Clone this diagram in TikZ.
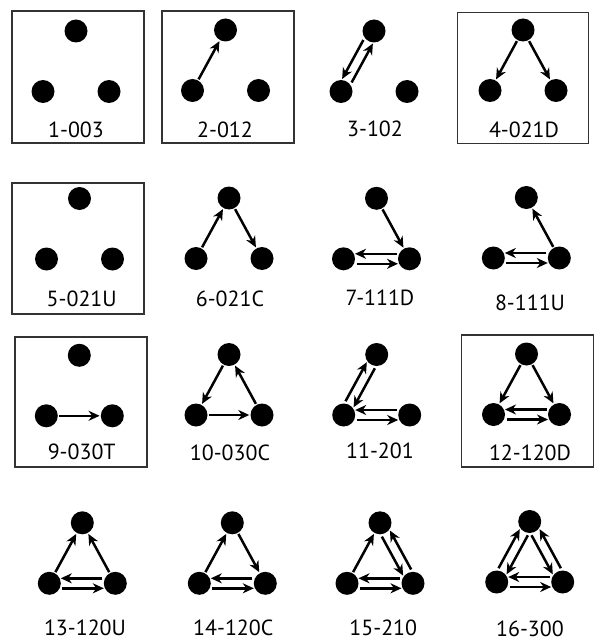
\documentclass[tikz,border=0pt]{standalone}
\usepackage{fontspec}
\setmainfont{PT Sans}
\usetikzlibrary{positioning, arrows.meta, calc}

\begin{document}
\begin{tikzpicture}[
      x=1bp, y=-1bp,
      node distance=60.5bp and 33bp, on grid,
      dot/.style={circle, fill, inner sep=0pt, minimum size=23bp, outer sep=1.2bp},
      frame/.style={draw=black!80, line width=1.7bp, minimum width=132bp,
        minimum height=132bp},
      lbl/.style={anchor=base, inner sep=1bp, font=\fontsize{22}{24}\selectfont},
      arr/.style={-{Stealth[length=11bp, width=10bp, inset=3.5bp]}, line width=2.5bp},
      twin/.style={shorten <=13bp, shorten >=11.5bp,
        to path={($(\tikztostart)!#1!-90:(\tikztotarget)$) --
          ($(\tikztotarget)!#1!90:(\tikztostart)$)}},
      twin/.default=5bp
    ]
    \useasboundingbox (0,0) rectangle (596,642);

    % frames
    \node[frame] (f1) at (78,77) {};
    \node[frame] (f2) at (228,77) {};
    \node[frame, minimum width=131bp, minimum height=131bp] (f4) at (523,78) {};
    \node[frame, minimum height=131bp] (f5) at (78,248.7) {};
    \node[frame, minimum height=130bp] (f9) at (81,402) {};
    \node[frame] (f12) at (527.5,401.3) {};

    % row 1
    \node[dot] (t1) at (76,31) {};
    \node[dot, below left=of t1] (l1) {};
    \node[dot, below right=of t1] (r1) {};
    \node[lbl] (n1) at (76,137.7) {1-003};

    \node[dot] (t2) at (225.5,30) {};
    \node[dot, below left=of t2] (l2) {};
    \node[dot, below right=of t2] (r2) {};
    \node[lbl] (n2) at (225,137.7) {2-012};
    \draw[arr] (l2) -- (t2);

    \node[dot] (t3) at (374,31) {};
    \node[dot, below left=of t3] (l3) {};
    \node[dot, below right=of t3] (r3) {};
    \node[lbl] (n3) at (375,136.7) {3-102};
    \draw[arr, twin] (t3) to (l3);
    \draw[arr, twin] (l3) to (t3);

    \node[dot] (t4) at (523,30) {};
    \node[dot, below left=of t4] (l4) {};
    \node[dot, below right=of t4] (r4) {};
    \node[lbl] (n4) at (524,137.3) {4-021D};
    \draw[arr] (t4) -- (l4);
    \draw[arr] (t4) -- (r4);

    % row 2
    \node[dot] (t5) at (79.5,198.5) {};
    \node[dot, below left=of t5] (l5) {};
    \node[dot, below right=of t5] (r5) {};
    \node[lbl] (n5) at (81.7,306.7) {5-021U};

    \node[dot] (t6) at (229,198) {};
    \node[dot, below left=of t6] (l6) {};
    \node[dot, below right=of t6] (r6) {};
    \node[lbl] (n6) at (230,306.7) {6-021C};
    \draw[arr] (l6) -- (t6);
    \draw[arr] (t6) -- (r6);

    \node[dot] (t7) at (376.5,198.3) {};
    \node[dot, below left=of t7] (l7) {};
    \node[dot, below right=of t7] (r7) {};
    \node[lbl] (n7) at (380,305) {7-111D};
    \draw[arr] (t7) -- (r7);
    \draw[arr, twin] (l7) to (r7);
    \draw[arr, twin] (r7) to (l7);

    \node[dot] (t8) at (526.3,197.5) {};
    \node[dot, below left=of t8] (l8) {};
    \node[dot, below right=of t8] (r8) {};
    \node[lbl] (n8) at (530,310) {8-111U};
    \draw[arr] (r8) -- (t8);
    \draw[arr, twin] (l8) to (r8);
    \draw[arr, twin] (r8) to (l8);

    % row 3
    \node[dot] (t9) at (79.3,355.3) {};
    \node[dot, below left=of t9] (l9) {};
    \node[dot, below right=of t9] (r9) {};
    \node[lbl] (n9) at (81.7,459.3) {9-030T};
    \draw[arr] (l9) -- (r9);

    \node[dot] (t10) at (229,354.5) {};
    \node[dot, below left=of t10] (l10) {};
    \node[dot, below right=of t10] (r10) {};
    \node[lbl] (n10) at (230,460) {10-030C};
    \draw[arr] (t10) -- (l10);
    \draw[arr] (l10) -- (r10);
    \draw[arr] (r10) -- (t10);

    \node[dot] (t11) at (376.7,354.5) {};
    \node[dot, below left=of t11] (l11) {};
    \node[dot, below right=of t11] (r11) {};
    \node[lbl] (n11) at (380,458.3) {11-201};
    \draw[arr, twin=-5bp] (t11) to (l11);
    \draw[arr, twin=-5bp] (l11) to (t11);
    \draw[arr, twin] (l11) to (r11);
    \draw[arr, twin] (r11) to (l11);

    \node[dot] (t12) at (526.5,354) {};
    \node[dot, below left=of t12] (l12) {};
    \node[dot, below right=of t12] (r12) {};
    \node[lbl] (n12) at (530,460) {12-120D};
    \draw[arr] (t12) -- (l12);
    \draw[arr] (t12) -- (r12);
    \draw[arr, twin] (l12) to (r12);
    \draw[arr, twin] (r12) to (l12);

    % row 4
    \node[dot] (t13) at (82.3,522.8) {};
    \node[dot, below left=of t13] (l13) {};
    \node[dot, below right=of t13] (r13) {};
    \node[lbl] (n13) at (85,635) {13-120U};
    \draw[arr] (l13) -- (t13);
    \draw[arr] (r13) -- (t13);
    \draw[arr, twin] (l13) to (r13);
    \draw[arr, twin] (r13) to (l13);

    \node[dot] (t14) at (232.3,522.8) {};
    \node[dot, below left=of t14] (l14) {};
    \node[dot, below right=of t14] (r14) {};
    \node[lbl] (n14) at (233.3,635) {14-120C};
    \draw[arr] (l14) -- (t14);
    \draw[arr] (t14) -- (r14);
    \draw[arr, twin] (l14) to (r14);
    \draw[arr, twin] (r14) to (l14);

    \node[dot] (t15) at (380,522.8) {};
    \node[dot, below left=of t15] (l15) {};
    \node[dot, below right=of t15] (r15) {};
    \node[lbl] (n15) at (383.3,635.5) {15-210};
    \draw[arr] (l15) -- (t15);
    \draw[arr, twin] (t15) to (r15);
    \draw[arr, twin] (r15) to (t15);
    \draw[arr, twin] (l15) to (r15);
    \draw[arr, twin] (r15) to (l15);

    \node[dot] (t16) at (529.7,521.5) {};
    \node[dot, below left=of t16] (l16) {};
    \node[dot, below right=of t16] (r16) {};
    \node[lbl] (n16) at (530,636) {16-300};
    \draw[arr, twin=-5bp] (t16) to (l16);
    \draw[arr, twin=-5bp] (l16) to (t16);
    \draw[arr, twin] (t16) to (r16);
    \draw[arr, twin] (r16) to (t16);
    \draw[arr, twin] (l16) to (r16);
    \draw[arr, twin] (r16) to (l16);
  \end{tikzpicture}
\end{document}
